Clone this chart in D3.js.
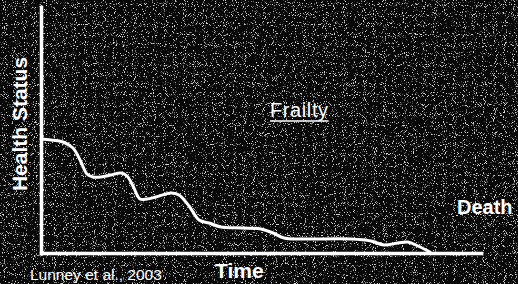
<!DOCTYPE html>
<html>
<head>
<meta charset="utf-8">
<script src="https://cdn.jsdelivr.net/npm/d3@7"></script>
<style>
  html, body { margin: 0; padding: 0; background: #161616; }
  svg { display: block; }
  text { font-family: "Liberation Sans", Arial, sans-serif; fill: #fff; }
</style>
</head>
<body>
<svg id="chart" width="518" height="284"></svg>
<script>
// Data: time vs. health status along the frailty trajectory
const time   = [0, 10, 22, 32, 40, 46, 52, 60, 70, 80, 86, 92, 99, 106, 115, 130, 138, 148, 158, 168, 180, 200, 220, 232, 243, 260, 310, 330, 343, 357, 367, 377, 389];
const health = [114, 113, 111, 105, 91, 79, 76, 76, 78, 80, 77, 67, 54, 54, 56, 60, 58, 47, 33, 30, 26, 25, 24, 20, 15, 14, 14, 12, 8, 10, 11, 7, 1];
const timeDomain = [0, 440];
const healthDomain = [0, 246];
const labels = { y: "Health Status", x: "Time", trajectory: "Frailty", end: "Death", source: "Lunney et al., 2003" };

const svg = d3.select("#chart");
const W = 518, H = 284;

// noisy dark background
const defs = svg.append("defs");
const f = defs.append("filter").attr("id", "noise").attr("x", 0).attr("y", 0).attr("width", "100%").attr("height", "100%");
f.append("feTurbulence").attr("type", "fractalNoise").attr("baseFrequency", 1.1).attr("numOctaves", 1).attr("seed", 3).attr("result", "t");
f.append("feColorMatrix").attr("in", "t").attr("type", "matrix")
  .attr("values", "0 0 0 0 0.7  0 0 0 0 0.7  0 0 0 0 0.7  9 0 0 0 -5.3");
svg.append("rect").attr("width", W).attr("height", H).attr("fill", "#080808");
svg.append("rect").attr("width", W).attr("height", H).attr("filter", "url(#noise)");

const x = d3.scaleLinear().domain(timeDomain).range([41, 481]);
const y = d3.scaleLinear().domain(healthDomain).range([253, 7]);

// axes (no ticks)
const gx = svg.append("g").attr("transform", `translate(0,${y(0)})`)
  .call(d3.axisBottom(x).tickValues([]).tickSizeOuter(0));
const gy = svg.append("g").attr("transform", `translate(${x(0)},0)`)
  .call(d3.axisLeft(y).tickValues([]).tickSizeOuter(0));
[gx, gy].forEach(g => g.select(".domain").attr("stroke", "#fff").attr("stroke-width", 3.5).attr("stroke-linecap", "square"));

// trajectory
const pts = time.map((t, i) => [t, health[i]]);
svg.append("path")
  .datum(pts)
  .attr("fill", "none")
  .attr("stroke", "#fff")
  .attr("stroke-width", 3)
  .attr("stroke-linecap", "round")
  .attr("d", d3.line().x(d => x(d[0])).y(d => y(d[1])).curve(d3.curveCatmullRom.alpha(0.5)));

// texts
svg.append("text").attr("transform", "translate(27,124) rotate(-90)")
  .attr("text-anchor", "middle").attr("font-size", 21).attr("font-weight", "bold").text(labels.y);
svg.append("text").attr("x", 215).attr("y", 278)
  .attr("font-size", 21).attr("font-weight", "bold").text(labels.x);
const fr = svg.append("text").attr("x", 270).attr("y", 117)
  .attr("font-size", 20).attr("letter-spacing", 0.6).text(labels.trajectory);
const bb = fr.node().getBBox();
svg.append("line").attr("x1", bb.x).attr("x2", bb.x + bb.width).attr("y1", 121).attr("y2", 121)
  .attr("stroke", "#fff").attr("stroke-width", 1.5);
svg.append("text").attr("x", 457).attr("y", 214)
  .attr("font-size", 20).attr("font-weight", "bold").text(labels.end);
svg.append("text").attr("x", 30).attr("y", 280)
  .attr("font-size", 15.5).text(labels.source);
</script>
</body>
</html>
